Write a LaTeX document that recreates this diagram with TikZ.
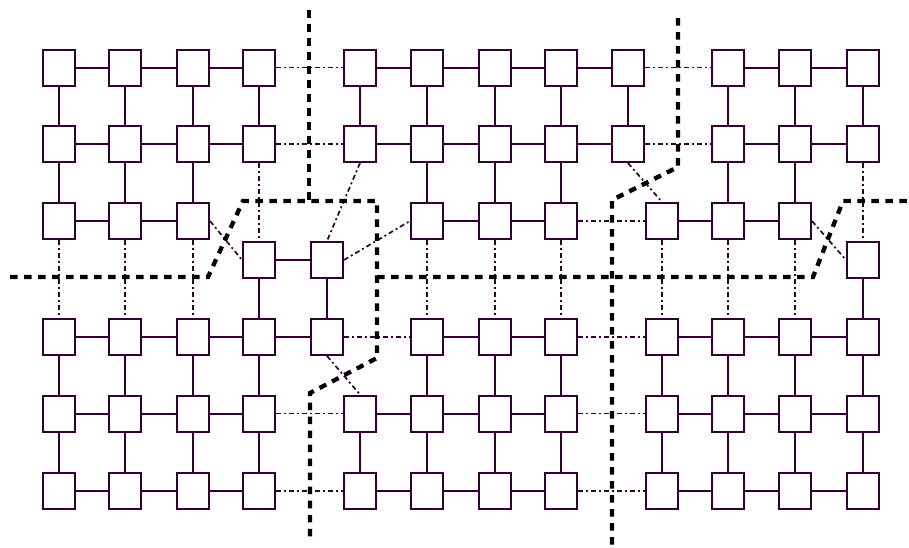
\documentclass[tikz,border=0pt]{standalone}
\begin{document}
\begin{tikzpicture}[x=1pt,y=-1pt,
  ink/.style={draw={rgb,255:red,50;green,0;blue,50}},
  cell/.style={ink,line width=2pt,minimum width=32pt,minimum height=36pt,inner sep=0pt,fill=white},
  link/.style={ink,line width=2pt},
  cut/.style={ink,line width=1.7pt,dash pattern=on 5pt off 3pt on 2pt off 3pt},
  part/.style={draw=black,line width=4.3pt,dash pattern=on 7.5pt off 6.5pt}]
\useasboundingbox (0,0) rectangle (909,547);
% rows 1 and 2
\foreach \r/\y in {1/67.5,2/144}{
  \foreach \c/\x in {1/59,2/125,3/193,4/259,5/360,6/427,7/495,8/561,9/628,10/728,11/795,12/863}
    \node[cell] (r\r c\c) at (\x,\y) {};
}
% row 3
\foreach \c/\x/\y in {1/59/221,2/125/221,3/193/221,4/259/260,5/327/260,6/427/221,7/495/221,8/561/221,9/662/221,10/728/221,11/795/221,12/863/260}
  \node[cell] (r3c\c) at (\x,\y) {};
% row 4
\foreach \c/\x in {1/59,2/125,3/193,4/259,5/327,6/427,7/495,8/561,9/662,10/728,11/795,12/863}
  \node[cell] (r4c\c) at (\x,337) {};
% rows 5 and 6
\foreach \r/\y in {5/413.5,6/491}{
  \foreach \c/\x in {1/59,2/125,3/193,4/259,5/360,6/427,7/495,8/561,9/662,10/728,11/795,12/863}
    \node[cell] (r\r c\c) at (\x,\y) {};
}
% horizontal links
\foreach \r in {1,2}{
  \foreach \a/\b in {1/2,2/3,3/4,5/6,6/7,7/8,8/9,10/11,11/12} \draw[link] (r\r c\a) -- (r\r c\b);
  \foreach \a/\b in {4/5,9/10} \draw[cut] (r\r c\a) -- (r\r c\b);
}
\foreach \a/\b in {1/2,2/3,4/5,6/7,7/8,9/10,10/11} \draw[link] (r3c\a) -- (r3c\b);
\draw[cut] (r3c8) -- (r3c9);
\foreach \a/\b in {3/4,5/6,11/12} \draw[cut] (r3c\a.east) -- (r3c\b.west);
\foreach \a/\b in {1/2,2/3,3/4,4/5,6/7,7/8,9/10,10/11,11/12} \draw[link] (r4c\a) -- (r4c\b);
\foreach \a/\b in {5/6,8/9} \draw[cut] (r4c\a) -- (r4c\b);
\foreach \r in {5,6}{
  \foreach \a/\b in {1/2,2/3,3/4,5/6,6/7,7/8,9/10,10/11,11/12} \draw[link] (r\r c\a) -- (r\r c\b);
  \foreach \a/\b in {4/5,8/9} \draw[cut] (r\r c\a) -- (r\r c\b);
}
% vertical links
\foreach \c in {1,...,12}{
  \draw[link] (r1c\c) -- (r2c\c);
  \draw[link] (r5c\c) -- (r6c\c);
}
\foreach \c in {1,2,3,6,7,8,10,11} \draw[link] (r2c\c) -- (r3c\c);
\foreach \c in {4,12} \draw[cut] (r2c\c) -- (r3c\c);
\foreach \c in {5,9} \draw[cut] (r2c\c.south) -- (r3c\c.north);
\foreach \c in {4,5,12} \draw[link] (r3c\c) -- (r4c\c);
\foreach \c in {1,2,3,6,7,8,9,10,11} \draw[cut] (r3c\c) -- (r4c\c);
\foreach \c in {1,2,3,4,6,7,8,9,10,11,12} \draw[link] (r4c\c) -- (r5c\c);
\draw[cut] (r4c5.south) -- (r5c5.north);
% partition lines
\coordinate (pa1) at (10,277);
\coordinate (pa2) at (208,277);
\coordinate (pa3) at (243,201);
\coordinate (pa4) at (377,201);
\coordinate (pa5) at (377,358);
\coordinate (pa6) at (310,393);
\coordinate (pa7) at (310,540);
\coordinate (pb1) at (309,10);
\coordinate (pb2) at (309,201);
\coordinate (pc1) at (377,277);
\coordinate (pc2) at (813,277);
\coordinate (pc3) at (843,201);
\coordinate (pc4) at (909,201);
\coordinate (pd1) at (678,18);
\coordinate (pd2) at (678,167);
\coordinate (pd3) at (612,200);
\coordinate (pd4) at (612,547);
\draw[part] (pa1) -- (pa2) -- (pa3) -- (pa4) -- (pa5) -- (pa6) -- (pa7);
\draw[part] (pb1) -- (pb2);
\draw[part] (pc1) -- (pc2) -- (pc3) -- (pc4);
\draw[part] (pd1) -- (pd2) -- (pd3) -- (pd4);
\end{tikzpicture}
\end{document}
